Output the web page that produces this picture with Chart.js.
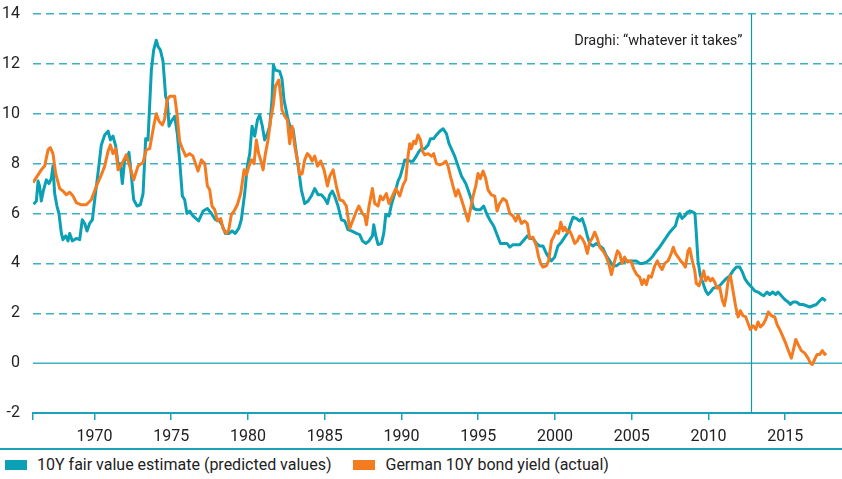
<!DOCTYPE html>
<html>
<head>
<meta charset="utf-8">
<title>German 10Y bond yield vs fair value</title>
<script src="https://cdn.jsdelivr.net/npm/chart.js@4.4.0/dist/chart.umd.min.js"></script>
<style>
  body { margin: 0; background: #fff; font-family: Roboto, sans-serif; }
  #chart-box { width: 842px; height: 448px; position: relative; }
  #legend {
    width: 842px; height: 29px; border-top: 2px solid #1aa3b8;
    display: flex; align-items: center; font-size: 16px; color: #222;
  }
  #legend .item { display: flex; align-items: center; margin-right: 22px; }
  #legend .item:first-child { margin-left: 5px; }
  #legend .box { width: 22px; height: 10px; margin-right: 10px; }
</style>
</head>
<body>
<div id="chart-box"><canvas id="chart"></canvas></div>
<div id="legend"></div>
<script>
// series labels and colours
const seriesLabels = ['10Y fair value estimate (predicted values)', 'German 10Y bond yield (actual)'];
const seriesColors = ['#0ca0b5', '#f47b20'];

// 10Y fair value estimate
const fairYears = [1966.04,1966.22,1966.33,1966.43,1966.54,1966.69,1966.87,1967.04,1967.19,1967.30,1967.41,1967.56,1967.69,1967.85,1967.95,1968.13,1968.28,1968.39,1968.56,1968.82,1969.04,1969.21,1969.37,1969.52,1969.69,1969.87,1970.02,1970.23,1970.45,1970.67,1970.89,1971.04,1971.21,1971.39,1971.54,1971.69,1971.82,1971.97,1972.12,1972.25,1972.41,1972.56,1972.78,1972.99,1973.17,1973.34,1973.49,1973.71,1973.86,1974.03,1974.14,1974.30,1974.47,1974.64,1974.75,1974.86,1975.01,1975.23,1975.40,1975.55,1975.73,1975.88,1976.03,1976.21,1976.42,1976.79,1977.08,1977.36,1977.62,1977.88,1978.10,1978.31,1978.53,1978.75,1978.97,1979.18,1979.40,1979.57,1979.79,1979.96,1980.12,1980.27,1980.44,1980.62,1980.77,1980.94,1981.09,1981.27,1981.42,1981.57,1981.66,1981.79,1982.07,1982.22,1982.35,1982.57,1982.79,1982.94,1983.16,1983.31,1983.48,1983.70,1983.92,1984.13,1984.35,1984.57,1984.79,1985.00,1985.18,1985.33,1985.50,1985.65,1985.87,1986.09,1986.31,1986.52,1986.74,1987.07,1987.28,1987.46,1987.67,1987.89,1988.11,1988.20,1988.33,1988.48,1988.70,1988.85,1988.98,1989.19,1989.35,1989.56,1989.78,1989.93,1990.11,1990.22,1990.37,1990.54,1990.76,1990.97,1991.15,1991.30,1991.52,1991.74,1991.89,1992.10,1992.28,1992.50,1992.71,1992.93,1993.10,1993.25,1993.47,1993.69,1993.91,1994.19,1994.34,1994.56,1994.71,1994.93,1995.14,1995.36,1995.58,1995.80,1996.01,1996.23,1996.45,1996.66,1996.88,1997.06,1997.27,1997.49,1997.71,1997.92,1998.20,1998.36,1998.57,1998.79,1999.01,1999.22,1999.44,1999.59,1999.77,1999.98,2000.20,2000.42,2000.64,2000.85,2001.03,2001.18,2001.40,2001.61,2001.77,2001.94,2002.11,2002.26,2002.48,2002.70,2002.92,2003.13,2003.35,2003.57,2003.78,2004.00,2004.22,2004.44,2004.65,2004.87,2005.09,2005.30,2005.52,2005.74,2005.96,2006.17,2006.39,2006.61,2006.82,2007.04,2007.26,2007.48,2007.69,2007.85,2007.98,2008.13,2008.28,2008.45,2008.63,2008.78,2009.00,2009.12,2009.20,2009.32,2009.47,2009.65,2009.82,2009.97,2010.13,2010.30,2010.52,2010.73,2010.95,2011.17,2011.39,2011.60,2011.82,2012.04,2012.21,2012.36,2012.58,2012.80,2013.01,2013.23,2013.45,2013.60,2013.82,2013.99,2014.17,2014.38,2014.53,2014.75,2014.97,2015.19,2015.34,2015.51,2015.73,2015.95,2016.16,2016.38,2016.60,2016.81,2017.03,2017.25,2017.42,2017.64];
const fairValues = [6.37,6.5,7.3,7.1,6.5,6.95,7.35,7.2,7.4,7.9,6.8,6.3,6.0,5.2,4.95,5.1,4.9,5.2,4.9,5.0,4.95,5.75,5.6,5.3,5.6,5.75,6.55,7.6,8.75,9.15,9.3,8.95,9.1,8.7,8.0,8.0,7.2,8.15,8.2,8.45,7.5,6.55,6.3,6.35,6.8,9.0,8.95,11.75,12.55,12.95,12.7,12.55,12.1,10.7,10.5,9.5,9.7,9.9,9.2,8.15,6.7,6.55,6.0,6.1,5.9,5.7,6.1,6.2,6.0,5.75,5.75,5.55,5.2,5.2,5.3,5.2,5.4,5.75,6.8,7.9,8.4,9.5,9.1,9.75,9.95,9.5,8.95,9.2,9.5,10.55,11.95,11.75,11.7,11.4,10.55,9.9,9.35,9.4,8.4,7.75,6.95,6.4,6.5,6.7,7.0,6.75,6.75,6.6,6.4,6.75,6.9,6.7,6.3,5.75,5.7,5.35,5.3,5.2,5.15,4.9,4.8,4.9,5.1,5.55,5.1,4.75,4.8,5.2,5.95,5.9,6.35,6.8,7.3,7.5,7.9,8.15,8.15,8.1,8.1,8.3,8.5,8.6,8.6,8.75,9.0,9.0,9.15,9.3,9.4,9.2,8.8,8.6,8.3,7.9,7.5,7.2,6.95,6.55,6.2,6.15,6.15,6.3,5.95,5.7,5.5,5.15,4.8,4.8,4.8,4.65,4.75,4.75,4.75,4.9,5.1,5.0,5.0,4.8,4.7,4.7,4.4,4.25,4.1,4.25,4.7,4.85,5.05,5.25,5.6,5.85,5.8,5.7,5.8,5.5,5.1,4.8,4.7,4.8,4.7,4.6,4.3,4.1,3.9,3.9,4.0,4.05,4.1,4.1,4.1,4.1,4.0,4.0,4.05,4.15,4.3,4.5,4.65,4.85,5.05,5.25,5.4,5.5,5.8,6.0,5.8,5.9,6.05,6.1,6.05,6.0,5.3,4.1,3.5,3.2,2.9,2.75,2.85,3.0,3.05,3.1,3.25,3.4,3.5,3.7,3.85,3.85,3.65,3.4,3.2,3.05,2.9,2.85,2.75,2.7,2.85,2.75,2.85,2.75,2.85,2.7,2.55,2.45,2.35,2.45,2.45,2.35,2.35,2.3,2.25,2.3,2.35,2.5,2.6,2.5];

// German 10Y bond yield (actual)
const yieldYears = [1966.00,1966.33,1966.54,1966.76,1966.98,1967.13,1967.30,1967.48,1967.74,1967.95,1968.17,1968.39,1968.61,1968.82,1969.15,1969.47,1969.80,1970.13,1970.45,1970.67,1970.89,1971.04,1971.21,1971.39,1971.54,1971.75,1972.08,1972.30,1972.56,1972.84,1973.17,1973.38,1973.60,1973.86,1974.03,1974.21,1974.43,1974.58,1974.73,1974.90,1975.23,1975.38,1975.55,1975.73,1975.95,1976.21,1976.42,1976.75,1976.97,1977.19,1977.36,1977.51,1977.66,1977.84,1978.01,1978.23,1978.38,1978.60,1978.75,1978.92,1979.10,1979.31,1979.53,1979.75,1979.90,1980.07,1980.23,1980.40,1980.55,1980.70,1980.83,1980.99,1981.14,1981.31,1981.48,1981.64,1981.79,1982.01,1982.14,1982.22,1982.40,1982.57,1982.72,1982.88,1983.05,1983.22,1983.37,1983.53,1983.70,1983.87,1984.03,1984.18,1984.35,1984.53,1984.74,1984.96,1985.18,1985.33,1985.55,1985.76,1985.98,1986.20,1986.41,1986.63,1986.85,1987.07,1987.22,1987.46,1987.61,1987.72,1987.89,1988.11,1988.26,1988.48,1988.63,1988.80,1989.02,1989.19,1989.41,1989.63,1989.89,1990.11,1990.28,1990.43,1990.54,1990.65,1990.80,1990.93,1991.08,1991.24,1991.37,1991.52,1991.74,1991.95,1992.10,1992.28,1992.50,1992.71,1992.89,1993.04,1993.19,1993.36,1993.54,1993.69,1993.84,1994.02,1994.19,1994.34,1994.49,1994.67,1994.84,1994.99,1995.14,1995.32,1995.49,1995.64,1995.86,1996.08,1996.23,1996.40,1996.62,1996.84,1997.06,1997.27,1997.45,1997.60,1997.82,1998.03,1998.20,1998.36,1998.57,1998.79,1998.94,1999.07,1999.22,1999.44,1999.59,1999.77,1999.94,2000.09,2000.24,2000.38,2000.53,2000.64,2000.81,2000.96,2001.11,2001.29,2001.46,2001.61,2001.77,2001.94,2002.11,2002.26,2002.42,2002.59,2002.76,2002.92,2003.13,2003.35,2003.50,2003.68,2003.85,2004.07,2004.22,2004.37,2004.54,2004.72,2004.94,2005.15,2005.33,2005.52,2005.67,2005.80,2005.96,2006.11,2006.28,2006.50,2006.67,2006.82,2006.98,2007.15,2007.37,2007.58,2007.71,2007.85,2008.02,2008.19,2008.34,2008.50,2008.67,2008.78,2008.95,2009.11,2009.21,2009.39,2009.54,2009.69,2009.82,2009.97,2010.13,2010.26,2010.41,2010.56,2010.73,2010.91,2011.04,2011.17,2011.28,2011.43,2011.60,2011.78,2011.93,2012.08,2012.25,2012.43,2012.58,2012.73,2012.91,2013.08,2013.23,2013.38,2013.56,2013.73,2013.90,2014.10,2014.32,2014.47,2014.64,2014.82,2015.03,2015.21,2015.40,2015.56,2015.69,2015.84,2016.05,2016.27,2016.49,2016.64,2016.77,2016.92,2017.08,2017.25,2017.42,2017.58,2017.68];
const yieldValues = [7.24,7.55,7.75,7.9,8.55,8.64,8.4,7.6,7.0,6.9,6.75,6.85,6.7,6.44,6.35,6.35,6.55,7.1,7.55,7.9,8.5,8.75,8.4,8.6,7.75,7.95,8.35,7.9,7.35,7.9,8.05,8.55,8.6,9.5,10.0,9.7,9.55,9.8,10.55,10.7,10.7,10.0,8.9,8.6,8.3,8.4,8.3,7.7,8.15,8.0,7.1,6.95,6.3,6.15,5.7,5.8,5.4,5.2,5.35,5.95,6.1,6.35,6.8,7.75,7.55,7.9,8.15,8.0,8.95,8.4,8.15,7.75,8.4,8.95,9.75,10.3,11.1,11.35,10.7,10.15,9.9,9.75,8.8,9.5,8.7,8.15,7.55,7.6,8.15,8.4,8.3,8.1,8.3,7.9,8.1,7.75,7.1,7.5,7.75,7.1,6.55,6.5,6.3,5.4,5.75,6.1,6.3,6.0,5.9,5.55,6.3,7.0,6.4,6.3,6.7,6.55,6.8,6.4,6.7,7.0,6.7,7.15,7.35,8.3,8.8,8.6,8.9,8.8,9.15,8.95,8.5,8.35,8.4,8.3,8.4,8.0,7.95,8.0,8.1,7.9,7.5,7.1,6.7,6.95,6.7,6.35,6.0,5.7,6.15,6.7,7.1,7.6,7.4,7.7,7.4,6.95,6.75,6.7,6.1,6.4,6.6,6.5,6.0,5.9,5.7,5.95,5.6,5.7,5.6,5.0,5.05,4.7,4.25,4.0,3.85,3.9,4.1,4.9,5.1,5.3,5.2,5.65,5.3,5.45,5.25,5.3,5.1,4.8,4.9,5.1,5.0,4.8,4.4,4.85,5.0,5.25,5.0,4.65,4.5,4.25,4.0,3.55,4.0,4.5,4.4,4.0,4.25,4.05,4.1,3.75,3.55,3.45,3.15,3.35,3.15,3.5,3.45,3.9,4.1,3.9,3.75,4.0,4.1,4.4,4.65,4.4,4.25,4.1,4.0,3.85,4.5,4.6,4.1,3.7,3.2,3.1,3.4,3.7,3.3,3.45,3.3,3.4,3.25,3.0,3.05,2.5,2.3,2.75,3.3,3.5,2.9,2.25,1.85,2.1,1.9,1.85,1.6,1.35,1.5,1.35,1.65,1.45,1.55,1.75,2.05,1.9,1.85,1.55,1.35,1.1,0.8,0.5,0.2,0.6,0.95,0.75,0.5,0.4,0.2,0.0,-0.05,0.15,0.35,0.35,0.5,0.35,0.4];

// axes
const xMin = 1966, xMax = 2018.7;
const xTickYears = [1966, 1970, 1975, 1980, 1985, 1990, 1995, 2000, 2005, 2010, 2015];
const yMin = -2, yMax = 14, yStep = 2;

// annotation
const draghiYear = 2012.77;
const draghiLabel = 'Draghi: \u201Cwhatever it takes\u201D';
const draghiLabelValue = 12.9;

const teal = '#1aa3b8';
const gridTeal = '#3cb2c5';
const textColor = '#222';

function toPoints(xs, ys) {
    return xs.map((x, i) => ({ x: x, y: ys[i] }));
}

// zero line, Draghi marker and its label
const refLines = {
    id: 'refLines',
    beforeDatasetsDraw(chart) {
        const { ctx, chartArea, scales } = chart;
        const y0 = scales.y.getPixelForValue(0);
        const xd = Math.round(scales.x.getPixelForValue(draghiYear)) + 0.5;
        ctx.save();
        ctx.strokeStyle = gridTeal;
        ctx.lineWidth = 1.5;
        ctx.beginPath();
        ctx.moveTo(chartArea.left, y0);
        ctx.lineTo(chartArea.right, y0);
        ctx.stroke();

        ctx.strokeStyle = '#1597ac';
        ctx.lineWidth = 1.2;
        ctx.beginPath();
        ctx.moveTo(xd, chartArea.top);
        ctx.lineTo(xd, chartArea.bottom);
        ctx.stroke();

        ctx.fillStyle = textColor;
        ctx.font = '14.5px Roboto';
        ctx.textAlign = 'right';
        ctx.textBaseline = 'middle';
        ctx.fillText(draghiLabel, xd - 9, scales.y.getPixelForValue(draghiLabelValue));
        ctx.restore();
    }
};

const data = {
    datasets: [
        {
            label: seriesLabels[0],
            data: toPoints(fairYears, fairValues),
            borderColor: seriesColors[0],
            backgroundColor: seriesColors[0],
            order: 2
        },
        {
            label: seriesLabels[1],
            data: toPoints(yieldYears, yieldValues),
            borderColor: seriesColors[1],
            backgroundColor: seriesColors[1],
            order: 1
        }
    ]
};

const config = {
    type: 'line',
    data: data,
    options: {
        responsive: true,
        maintainAspectRatio: false,
        animation: false,
        layout: { padding: { top: 14, left: 0, right: 0, bottom: 0 } },
        elements: {
            point: { radius: 0 },
            line: { borderWidth: 3, tension: 0, borderJoinStyle: 'round' }
        },
        plugins: {
            legend: { display: false },
            tooltip: { enabled: false }
        },
        scales: {
            x: {
                type: 'linear',
                min: xMin,
                max: xMax,
                afterBuildTicks: (axis) => { axis.ticks = xTickYears.map(v => ({ value: v })); },
                afterFit: (axis) => { axis.height = 35; axis.paddingLeft = 0; axis.paddingRight = 0; },
                ticks: {
                    autoSkip: false,
                    maxRotation: 0,
                    padding: 7,
                    color: textColor,
                    font: { family: 'Roboto', size: 16 },
                    callback: (v) => (v % 5 === 0 ? String(v) : '')
                },
                grid: {
                    drawOnChartArea: false,
                    drawTicks: true,
                    tickLength: 7,
                    color: teal,
                    lineWidth: 1.5
                },
                border: { color: teal, width: 2 }
            },
            y: {
                min: yMin,
                max: yMax,
                afterFit: (axis) => { axis.width = 33; axis.paddingTop = 0; axis.paddingBottom = 0; },
                ticks: {
                    stepSize: yStep,
                    padding: 13,
                    color: textColor,
                    font: { family: 'Roboto', size: 16 }
                },
                grid: {
                    drawTicks: false,
                    lineWidth: 1.5,
                    color: (c) => (c.tick && (c.tick.value === 0 || c.tick.value === yMin) ? 'rgba(0,0,0,0)' : gridTeal)
                },
                border: { display: false, dash: [8, 5] }
            }
        }
    },
    plugins: [refLines]
};

const chart = new Chart(document.getElementById('chart'), config);

// legend below the chart, built from the datasets
const legend = document.getElementById('legend');
chart.data.datasets.forEach(function(ds) {
    const item = document.createElement('span');
    item.className = 'item';
    const box = document.createElement('span');
    box.className = 'box';
    box.style.background = ds.borderColor;
    const txt = document.createElement('span');
    txt.textContent = ds.label;
    item.appendChild(box);
    item.appendChild(txt);
    legend.appendChild(item);
});
</script>
</body>
</html>
